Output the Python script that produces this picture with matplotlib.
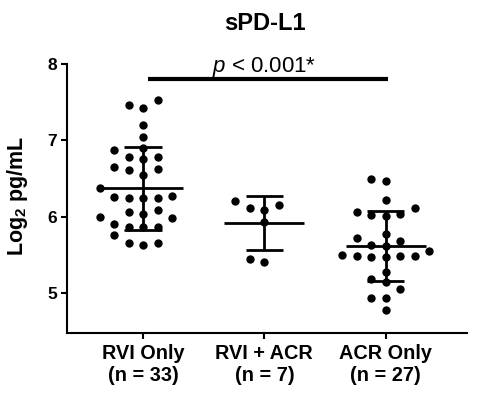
import numpy as np
import matplotlib
matplotlib.use('Agg')
import matplotlib.pyplot as plt

plt.rcParams['font.family'] = ['Liberation Sans', 'DejaVu Sans']
plt.rcParams['mathtext.fontset'] = 'custom'
plt.rcParams['mathtext.rm'] = 'Liberation Sans'
plt.rcParams['mathtext.it'] = 'Liberation Sans:italic'
plt.rcParams['mathtext.bf'] = 'Liberation Sans:bold'

groups = ['RVI Only\n(n = 33)', 'RVI + ACR\n(n = 7)', 'ACR Only\n(n = 27)']

rvi_only = [7.53, 7.46, 7.42, 7.20, 7.05, 6.90, 6.87, 6.78, 6.78, 6.75,
            6.65, 6.63, 6.61, 6.55, 6.37, 6.27, 6.26, 6.25, 6.24, 6.24,
            6.09, 6.06, 6.04, 6.00, 5.98, 5.91, 5.87, 5.87, 5.87, 5.76,
            5.65, 5.65, 5.63]
rvi_acr = [6.21, 6.16, 6.12, 6.09, 5.93, 5.45, 5.41]
acr_only = [6.49, 6.47, 6.22, 6.11, 6.06, 6.03, 6.02, 6.01, 5.78, 5.72,
            5.68, 5.63, 5.62, 5.55, 5.50, 5.49, 5.49, 5.48, 5.47, 5.47,
            5.28, 5.19, 5.14, 5.05, 4.93, 4.93, 4.78]

means = [6.37, 5.92, 5.62]
sds = [0.545, 0.35, 0.46]

sig_pair = (0, 2)
sig_y = 7.80
sig_text = '$p$ < 0.001*'

fig = plt.figure(figsize=(4.82, 4.0), dpi=100)
ax = fig.add_axes([0.1384, 0.168, 0.830, 0.672])
ax.set_xlim(-0.63, 2.67)
ax.set_ylim(4.48, 8.0)


def swarm(x0, vals, step_px=14.5, gap_px=10.5):
    # simple greedy column swarm in pixel space
    pts = ax.transData.transform([(x0, v) for v in vals])
    order = np.argsort(vals)
    placed = []
    xs = np.zeros(len(vals))
    for i in order:
        py = pts[i, 1]
        k = 0
        while True:
            for cand in ([0] if k == 0 else [-k, k]):
                cx = pts[i, 0] + cand * step_px
                if all(np.hypot(cx - qx, py - qy) >= gap_px for qx, qy in placed):
                    placed.append((cx, py))
                    xs[i] = ax.transData.inverted().transform((cx, py))[0]
                    break
            else:
                k += 1
                continue
            break
    return xs


for i, vals in enumerate([rvi_only, rvi_acr, acr_only]):
    xs = swarm(i, vals)
    ax.scatter(xs, vals, s=36, c='black', zorder=3, linewidths=0)
    m, sd = means[i], sds[i]
    ax.hlines(m, i - 0.33, i + 0.33, colors='black', lw=2, zorder=4)
    ax.hlines([m - sd, m + sd], i - 0.155, i + 0.155, colors='black', lw=2, zorder=4)
    ax.vlines(i, m - sd, m + sd, colors='black', lw=2, zorder=4)

ax.hlines(sig_y, sig_pair[0] + 0.04, sig_pair[1] + 0.02, colors='black', lw=3)
ax.text((sig_pair[0] + sig_pair[1]) / 2, 7.90, sig_text, ha='center', va='baseline',
        fontsize=16)

ax.spines['top'].set_visible(False)
ax.spines['right'].set_visible(False)
ax.spines['left'].set_linewidth(1.5)
ax.spines['bottom'].set_linewidth(1.5)
ax.set_yticks([5, 6, 7, 8])
ax.set_xticks(range(3))
ax.set_xticklabels(groups, fontsize=14.3, fontweight='bold')
for lab in ax.get_yticklabels():
    lab.set_fontweight('bold')
    lab.set_fontsize(12.5)
ax.tick_params(axis='both', width=1.5, length=4)
ax.tick_params(axis='x', pad=4)
ax.tick_params(axis='y', pad=3)

fig.text(0.037, 0.51, r'Log$_{\mathbf{2}}$ pg/mL', rotation=90, ha='center', va='center',
         fontsize=15.5, fontweight='bold')
fig.text(0.549, 0.925, 'sPD-L1', ha='center', va='baseline', fontsize=17, fontweight='bold')

fig.savefig('out.png', dpi=100)
